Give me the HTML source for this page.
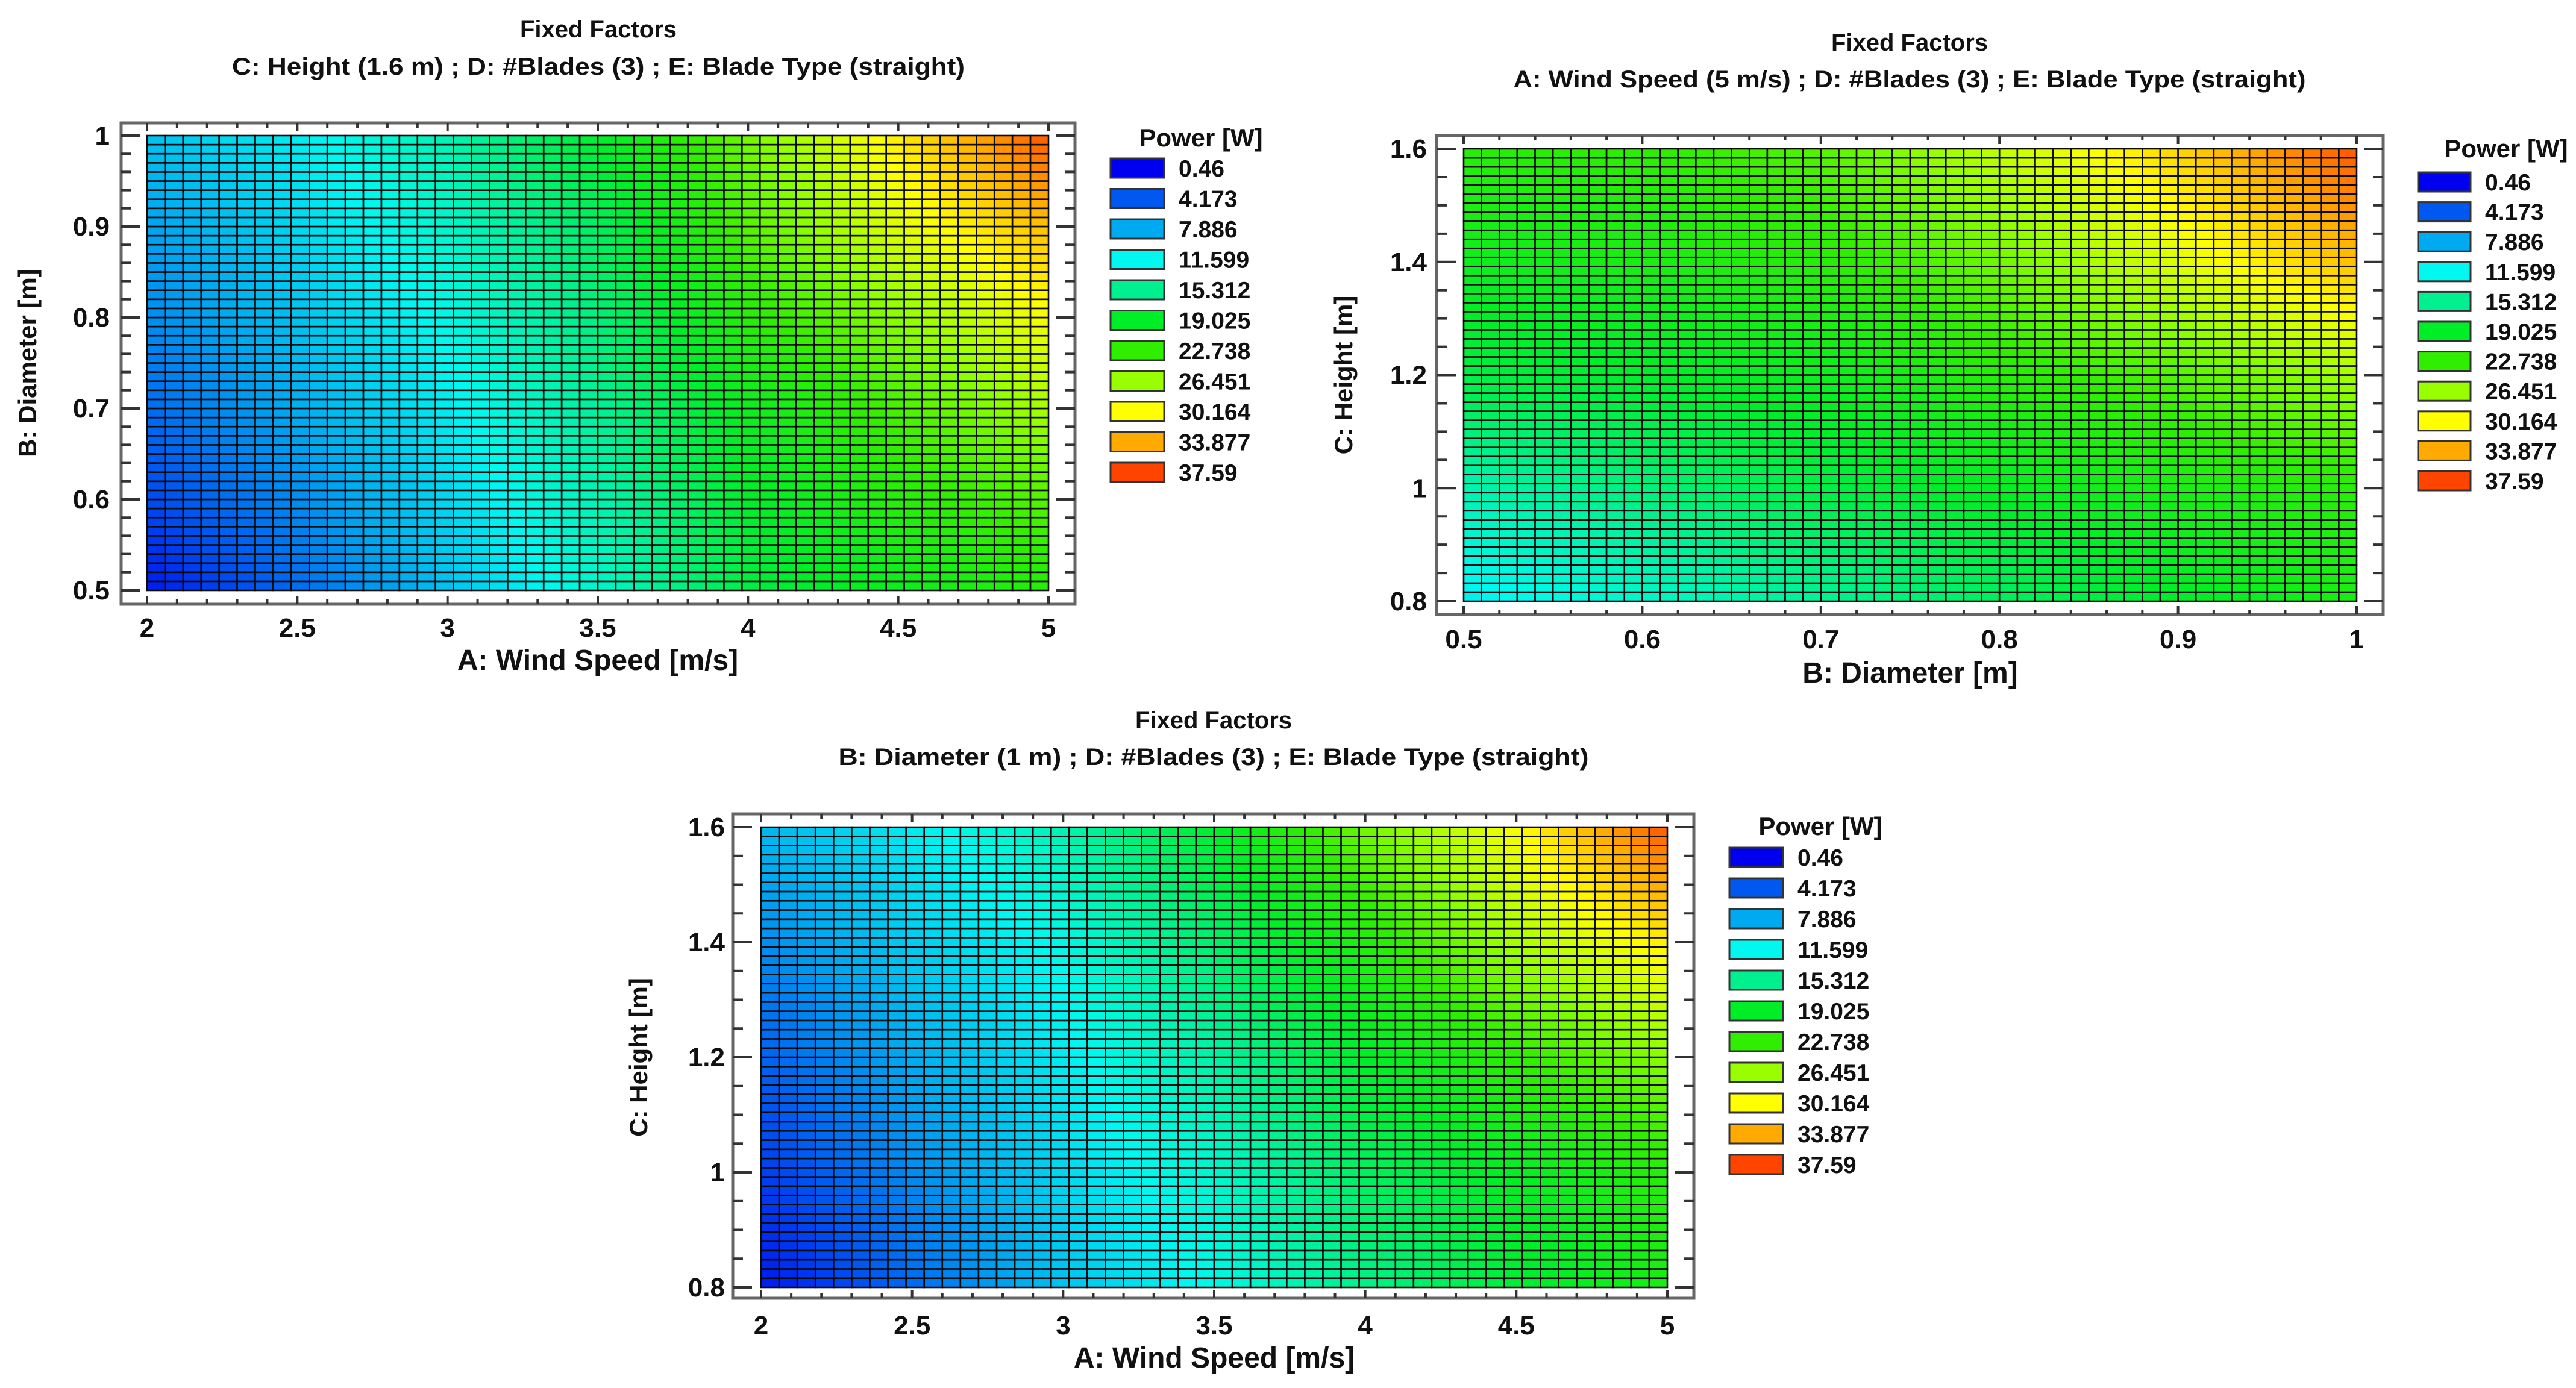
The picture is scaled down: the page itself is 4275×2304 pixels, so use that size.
<!DOCTYPE html>
<html><head><meta charset="utf-8"><style>
html,body{margin:0;padding:0;background:#fff;}
svg{display:block;}
text{font-family:"Liberation Sans",sans-serif;font-weight:bold;fill:#111;}
</style></head><body>
<svg id="root" width="4275" height="2304" viewBox="0 0 4275 2304" xmlns="http://www.w3.org/2000/svg"></svg>
<script>
// ---- shared legend data ----
const legendLevels = [0.46, 4.173, 7.886, 11.599, 15.312, 19.025, 22.738, 26.451, 30.164, 33.877, 37.59];
const legendLabels = ["0.46","4.173","7.886","11.599","15.312","19.025","22.738","26.451","30.164","33.877","37.59"];
const legendColors = ["#0000f0","#0058f0","#00aaf0","#00f8f0","#00f090","#00ee28","#30ee00","#99ff00","#ffff00","#ffaa00","#ff4400"];

// ---- chart 1: Wind speed x Diameter ----
const c1X = [2, 2.5, 3, 3.5, 4, 4.5, 5];
const c1Y = [0.5, 0.6, 0.7, 0.8, 0.9, 1.0];
const c1Values = [
  [1.5, 5, 9, 13, 18, 20, 22],
  [3.5, 6.5, 10, 14, 19, 22, 24],
  [5, 8, 11, 15, 20, 23.5, 27],
  [6.5, 9, 12, 16, 22, 26, 30],
  [7.5, 10, 13, 17, 24, 29, 33],
  [9, 11, 14, 19, 25, 31, 37]
];
const c1XTicks = [2, 2.5, 3, 3.5, 4, 4.5, 5];
const c1XTickLabels = ["2","2.5","3","3.5","4","4.5","5"];
const c1YTicks = [0.5, 0.6, 0.7, 0.8, 0.9, 1];
const c1YTickLabels = ["0.5","0.6","0.7","0.8","0.9","1"];

// ---- chart 2: Diameter x Height ----
const c2X = [0.5, 0.6, 0.7, 0.8, 0.9, 1.0];
const c2Y = [0.8, 1.0, 1.2, 1.4, 1.6];
const c2Values = [
  [11, 13, 15, 17, 19, 21],
  [14, 16, 18, 19.5, 21, 22],
  [18, 19, 20, 22, 24, 27],
  [20, 21, 22, 25, 29, 33],
  [22, 22.5, 24, 28, 32, 37]
];
const c2XTicks = [0.5, 0.6, 0.7, 0.8, 0.9, 1];
const c2XTickLabels = ["0.5","0.6","0.7","0.8","0.9","1"];
const c2YTicks = [0.8, 1, 1.2, 1.4, 1.6];
const c2YTickLabels = ["0.8","1","1.2","1.4","1.6"];

// ---- chart 3: Wind speed x Height ----
const c3X = [2, 2.5, 3, 3.5, 4, 4.5, 5];
const c3Y = [0.8, 1.0, 1.2, 1.4, 1.6];
const c3Values = [
  [1.5, 5, 9, 12, 15.5, 18.5, 21],
  [3, 6.5, 10, 13, 17, 19.5, 22],
  [4.5, 8, 11, 14.5, 19, 22.5, 26],
  [6.5, 9.5, 12, 16.5, 21.5, 27, 31],
  [8.5, 11, 14, 19, 25, 30, 37]
];
const c3XTicks = [2, 2.5, 3, 3.5, 4, 4.5, 5];
const c3XTickLabels = ["2","2.5","3","3.5","4","4.5","5"];
const c3YTicks = [0.8, 1, 1.2, 1.4, 1.6];
const c3YTickLabels = ["0.8","1","1.2","1.4","1.6"];

const NS = "http://www.w3.org/2000/svg";
const root = document.getElementById('root');
function mk(tag, attrs, parent){
  const e = document.createElementNS(NS, tag);
  for (const k in attrs) e.setAttribute(k, attrs[k]);
  (parent||root).appendChild(e);
  return e;
}
function hexRgb(h){return [parseInt(h.substr(1,2),16),parseInt(h.substr(3,2),16),parseInt(h.substr(5,2),16)];}
function colorFor(v){
  if (v <= legendLevels[0]) return legendColors[0];
  for (let i=0;i<legendLevels.length-1;i++){
    if (v <= legendLevels[i+1]){
      const t=(v-legendLevels[i])/(legendLevels[i+1]-legendLevels[i]);
      const a=hexRgb(legendColors[i]), b=hexRgb(legendColors[i+1]);
      return "rgb("+a.map((c,k)=>Math.round(c+(b[k]-c)*t)).join(",")+")";
    }
  }
  return legendColors[legendColors.length-1];
}
function interp(xs, ys, vals, x, y){
  let i=0; while(i<xs.length-2 && x>xs[i+1]) i++;
  let j=0; while(j<ys.length-2 && y>ys[j+1]) j++;
  const tx=(x-xs[i])/(xs[i+1]-xs[i]), ty=(y-ys[j])/(ys[j+1]-ys[j]);
  const a=vals[j][i], b=vals[j][i+1], c=vals[j+1][i], d=vals[j+1][i+1];
  return (a*(1-tx)+b*tx)*(1-ty)+(c*(1-tx)+d*tx)*ty;
}

function drawChart(id, L, xs, ys, vals, xt, xtl, yt, ytl, xMinorStep, yMinorStep, title2, xlabel, ylabel){
  const g = mk('g', {});
  
  
  const x0=xs[0], x1=xs[xs.length-1], y0=ys[0], y1=ys[ys.length-1];
  const sx = v => L.cl + (v-x0)/(x1-x0)*(L.cr-L.cl);
  const sy = v => L.cb - (v-y0)/(y1-y0)*(L.cb-L.ct);
  const t1 = mk('text', {x:L.tcx, y:L.t1y, 'font-size':40, 'text-anchor':'middle'}, g);
  t1.textContent = "Fixed Factors";
  
  
  const t2 = mk('text', {x:L.tcx, y:L.t2y, 'font-size':40, 'text-anchor':'middle', textLength:L.t2w, lengthAdjust:'spacingAndGlyphs'}, g);
  t2.textContent = title2;
  
  
  const fr = mk('rect', {x:L.fl, y:L.ft, width:L.fr-L.fl, height:L.fb-L.ft, fill:'#fff', stroke:'#666', 'stroke-width':5}, g);
  
  
  const N=50, cg = mk('g', {}, g);
  
  
  for (let j=0;j<N;j++){
    for (let i=0;i<N;i++){
      const xa=x0+(x1-x0)*i/N, xb=x0+(x1-x0)*(i+1)/N;
      const ya=y0+(y1-y0)*j/N, yb=y0+(y1-y0)*(j+1)/N;
      const v = interp(xs, ys, vals, (xa+xb)/2, (ya+yb)/2);
      const r = mk('rect', {x:sx(xa), y:sy(yb), width:sx(xb)-sx(xa), height:sy(ya)-sy(yb), fill:colorFor(v), stroke:'#0a0a0a', 'stroke-width':2.6}, cg);
      
      
    }
  }
  const tg = mk('g', {stroke:'#333', 'stroke-width':4}, g);
  
  
  const nx = Math.round((x1-x0)/xMinorStep);
  for (let k=0;k<=nx;k++){
    const v=x0+k*xMinorStep, px=sx(v);
    const major = xt.some(t=>Math.abs(t-v)<1e-6);
    const len = major?14:8;
    mk('line',{x1:px,y1:L.fb,x2:px,y2:L.fb-len},tg);
    mk('line',{x1:px,y1:L.ft,x2:px,y2:L.ft+len},tg);
  }
  const ny = Math.round((y1-y0)/yMinorStep);
  for (let k=0;k<=ny;k++){
    const v=y0+k*yMinorStep, py=sy(v);
    const major = yt.some(t=>Math.abs(t-v)<1e-6);
    const len = major?32:17;
    mk('line',{x1:L.fl,y1:py,x2:L.fl+len,y2:py},tg);
    mk('line',{x1:L.fr,y1:py,x2:L.fr-len,y2:py},tg);
  }
  xt.forEach((v,k)=>{
    const t = mk('text',{x:sx(v), y:L.xty, 'font-size':44, 'text-anchor':'middle'}, g);
    t.textContent = xtl[k];
    
    
  });
  yt.forEach((v,k)=>{
    const t = mk('text',{x:L.ytr, y:sy(v)+15, 'font-size':44, 'text-anchor':'end'}, g);
    t.textContent = ytl[k];
    
    
  });
  const xl = mk('text',{x:(L.cl+L.cr)/2, y:L.xly, 'font-size':48, 'text-anchor':'middle'}, g);
  xl.textContent = xlabel;
  
  
  const ycy=(L.ct+L.cb)/2;
  const yl = mk('text',{x:L.ylx, y:ycy, 'font-size':42, 'text-anchor':'middle', transform:'rotate(-90 '+L.ylx+' '+ycy+')'}, g);
  yl.textContent = ylabel;
  
  
  const lg = mk('g', {}, g);
  
  
  const lt = mk('text',{x:L.ltx, y:L.lty, 'font-size':42, 'text-anchor':'middle'}, lg);
  lt.textContent = "Power [W]";
  
  
  legendLevels.forEach((lv,k)=>{
    const y = L.ls0 + k*L.lsp;
    const sw = mk('rect',{x:L.lsx, y:y, width:L.lsw, height:32, fill:legendColors[k], stroke:'#333', 'stroke-width':3}, lg);
    
    
    const tx = mk('text',{x:L.lsx+L.lsw+24, y:y+30, 'font-size':39}, lg);
    tx.textContent = legendLabels[k];
    
    
  });
}

drawChart('chart-speed-diameter',
  {tcx:993,t1y:62,t2y:124,t2w:1216,fl:201,fr:1784,ft:204,fb:1003,cl:244,cr:1740,ct:225,cb:980,xty:1057,xly:1112,ylx:60,ytr:182,ltx:1993,lty:243,lsx:1843,lsw:89,ls0:263,lsp:50.5},
  c1X,c1Y,c1Values,c1XTicks,c1XTickLabels,c1YTicks,c1YTickLabels,0.1,0.02,
  "C: Height (1.6 m) ; D: #Blades (3) ; E: Blade Type (straight)","A: Wind Speed [m/s]","B: Diameter [m]");

drawChart('chart-diameter-height',
  {tcx:3169,t1y:84,t2y:145,t2w:1315,fl:2384,fr:3955,ft:225,fb:1020,cl:2429,cr:3911,ct:247,cb:998,xty:1076,xly:1133,ylx:2244,ytr:2368,ltx:4159,lty:261,lsx:4013,lsw:87,ls0:286,lsp:49.6},
  c2X,c2Y,c2Values,c2XTicks,c2XTickLabels,c2YTicks,c2YTickLabels,0.02,0.05,
  "A: Wind Speed (5 m/s) ; D: #Blades (3) ; E: Blade Type (straight)","B: Diameter [m]","C: Height [m]");

drawChart('chart-speed-height',
  {tcx:2014,t1y:1209,t2y:1270,t2w:1245,fl:1216,fr:2811,ft:1351,fb:2155,cl:1263,cr:2767,ct:1373,cb:2137,xty:2215,xly:2270,ylx:1074,ytr:1203,ltx:3021,lty:1386,lsx:2870,lsw:89,ls0:1407,lsp:51},
  c3X,c3Y,c3Values,c3XTicks,c3XTickLabels,c3YTicks,c3YTickLabels,0.1,0.05,
  "B: Diameter (1 m) ; D: #Blades (3) ; E: Blade Type (straight)","A: Wind Speed [m/s]","C: Height [m]");
</script>
</body></html>
